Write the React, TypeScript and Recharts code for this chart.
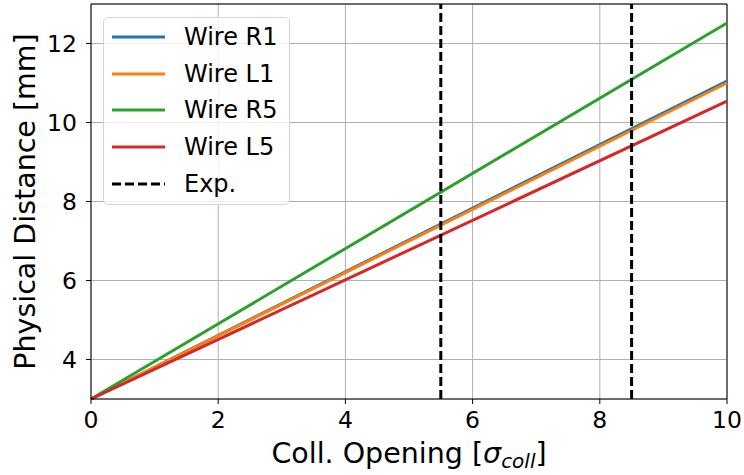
import { LineChart, Line, XAxis, YAxis, CartesianGrid, ReferenceLine } from "recharts";

const openings = [0, 10];
const wireR1 = [3, 11.05];
const wireL1 = [3, 11.0];
const wireR5 = [3, 12.52];
const wireL5 = [3, 10.54];
const expOpenings = [5.5, 8.5];
const xTicks = [0, 2, 4, 6, 8, 10];
const yTicks = [4, 6, 8, 10, 12];

const data = openings.map((x, i) => ({
  x,
  r1: wireR1[i],
  l1: wireL1[i],
  r5: wireR5[i],
  l5: wireL5[i],
}));

const series = [
  { key: "r1", name: "Wire R1", color: "#1f77b4" },
  { key: "l1", name: "Wire L1", color: "#ff7f0e" },
  { key: "r5", name: "Wire R5", color: "#2ca02c" },
  { key: "l5", name: "Wire L5", color: "#d62728" },
];

const font = "'DejaVu Sans', sans-serif";

function LegendBox() {
  const rows = [...series.map((s) => ({ name: s.name, color: s.color, dash: false })), { name: "Exp.", color: "#000", dash: true }];
  return (
    <div
      style={{
        position: "absolute",
        left: 103,
        top: 17,
        width: 187,
        height: 188,
        boxSizing: "border-box",
        background: "rgba(255,255,255,0.8)",
        border: "1px solid #d6d6d6",
        borderRadius: 5,
        padding: "1px 0 0 8px",
        fontFamily: font,
        fontSize: 24,
      }}
    >
      {rows.map((r) => (
        <div key={r.name} style={{ display: "flex", alignItems: "center", height: 36.6 }}>
          <svg width={53} height={6} style={{ marginRight: 19, flexShrink: 0 }}>
            <line x1={0} y1={3} x2={53} y2={3} stroke={r.color} strokeWidth={3} strokeDasharray={r.dash ? "9 4" : undefined} />
          </svg>
          <span style={{ whiteSpace: "nowrap", lineHeight: 1 }}>{r.name}</span>
        </div>
      ))}
    </div>
  );
}

function XLabel(props: any) {
  const { viewBox } = props;
  const cx = viewBox.x + viewBox.width / 2;
  return (
    <text x={cx} y={viewBox.y + 64} textAnchor="middle" fontFamily={font} fontSize={28.5} fill="#000">
      Coll. Opening [<tspan fontStyle="italic">σ</tspan>
      <tspan fontStyle="italic" fontSize={20} dy={5}>coll</tspan>
      <tspan dy={-5}>]</tspan>
    </text>
  );
}

function YLabel(props: any) {
  const { viewBox } = props;
  const cy = viewBox.y + viewBox.height / 2;
  return (
    <text
      x={35}
      y={cy}
      textAnchor="middle"
      fontFamily={font}
      fontSize={28.5}
      fill="#000"
      transform={`rotate(-90, 35, ${cy})`}
    >
      Physical Distance [mm]
    </text>
  );
}

export default function App() {
  return (
    <div style={{ position: "absolute", left: 0, top: 0, width: 744, height: 475, background: "#fff" }}>
      <LineChart width={744} height={475} data={data} margin={{ top: 4, right: 17, left: 0, bottom: 0 }}>
        <CartesianGrid stroke="#b0b0b0" strokeWidth={1} />
        <XAxis
          dataKey="x"
          type="number"
          domain={[0, 10]}
          ticks={xTicks}
          height={76}
          stroke="#000"
          tickSize={5}
          tickMargin={7}
          tick={{ fill: "#000", fontSize: 23.5, fontFamily: font }}
          label={<XLabel />}
        />
        <YAxis
          type="number"
          domain={[3, 13]}
          ticks={yTicks}
          width={91}
          stroke="#000"
          tickSize={5}
          tickMargin={9}
          tick={{ fill: "#000", fontSize: 23.5, fontFamily: font }}
          label={<YLabel />}
        />
        <ReferenceLine y={13} stroke="#000" strokeWidth={1} />
        <ReferenceLine x={10} stroke="#000" strokeWidth={1} />
        {series.map((s) => (
          <Line
            key={s.key}
            dataKey={s.key}
            name={s.name}
            stroke={s.color}
            strokeWidth={3}
            dot={false}
            type="linear"
            isAnimationActive={false}
          />
        ))}
        {expOpenings.map((x) => (
          <ReferenceLine key={x} x={x} stroke="#000" strokeWidth={3} strokeDasharray="9 4" />
        ))}
      </LineChart>
      <LegendBox />
    </div>
  );
}
